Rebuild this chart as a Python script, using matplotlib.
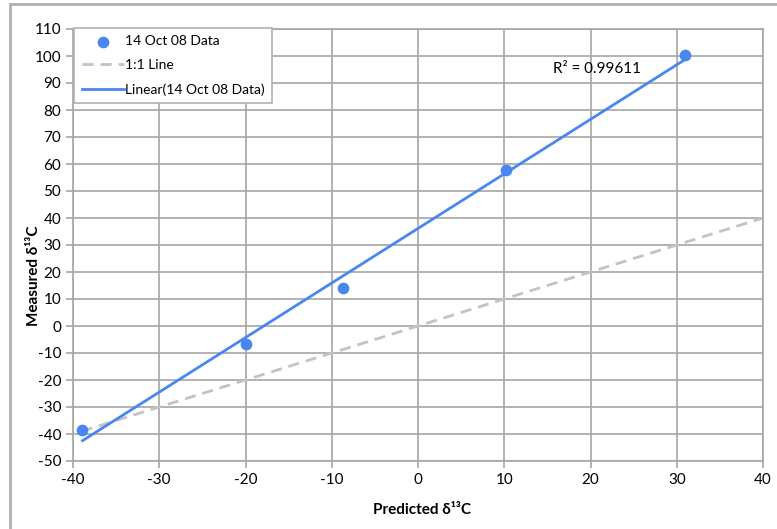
import numpy as np
import matplotlib
matplotlib.use("Agg")
import matplotlib.pyplot as plt
from matplotlib.patches import Rectangle

plt.rcParams['font.family'] = ['Lato', 'DejaVu Sans']
plt.rcParams['axes.unicode_minus'] = False

# 14 Oct 08 run: predicted vs measured d13C
predicted = [-38.9, -20.0, -8.7, 10.2, 30.9]
measured = [-38.5, -6.7, 14.1, 57.8, 100.4]
one_to_one = [-39, 40]
r2_label = "R² = 0.99611"

blue = '#4a86f0'
grid_col = '#a6a6a6'

fig = plt.figure(figsize=(7.77, 5.29), dpi=100)
ax = fig.add_axes([73 / 777, 1 - 461 / 529, 690 / 777, 432 / 529])

# outer chart frame
fig.patches.append(Rectangle((10 / 777, -0.1), 1.0, 1 - 4 / 529 + 0.1,
                             transform=fig.transFigure, fill=False,
                             edgecolor='#b0b0b0', linewidth=2))

# linear trendline through the data
slope, icpt = np.polyfit(predicted, measured, 1)
fit_x = np.array([min(predicted), max(predicted)])

ax.plot(one_to_one, one_to_one, color='#c3c3c3', linestyle=(0, (4, 2.5)),
        linewidth=2, label='1:1 Line', zorder=2)
ax.plot(fit_x, slope * fit_x + icpt, color=blue, linewidth=2,
        label='Linear(14 Oct 08 Data)', zorder=3)
ax.scatter(predicted, measured, s=55, color=blue, zorder=4,
           label='14 Oct 08 Data')

ax.text(15.7, 95.2, r2_label, fontsize=11, va='center', ha='left')

ax.set_xlim(-40, 40)
ax.set_ylim(-50, 110)
ax.set_xticks(range(-40, 41, 10))
ax.set_yticks(range(-50, 111, 10))
ax.grid(True, color=grid_col, linewidth=1.2)
ax.set_axisbelow(True)
for s in ax.spines.values():
    s.set_color(grid_col)
    s.set_linewidth(1.2)
ax.tick_params(colors=grid_col, labelcolor='black', labelsize=11,
               length=5, width=1.2)

ax.set_xlabel('Predicted δ¹³C', fontsize=11, fontweight='bold')
ax.set_ylabel('Measured δ¹³C', fontsize=11, fontweight='bold')
ax.xaxis.set_label_coords(0.506, -0.098)
ax.yaxis.set_label_coords(-0.047, 0.428)

h, l = ax.get_legend_handles_labels()
order = [2, 0, 1]
leg = ax.legend([h[i] for i in order], [l[i] for i in order],
                loc='upper left', bbox_to_anchor=(0.0, 1.006),
                fontsize=10, handlelength=3.0, handletextpad=0.1,
                labelspacing=0.85, borderpad=0.55, borderaxespad=0.1,
                fancybox=False, framealpha=1, edgecolor='#b0b0b0')
leg.get_frame().set_linewidth(1.2)

fig.savefig('out.png', dpi=100)
